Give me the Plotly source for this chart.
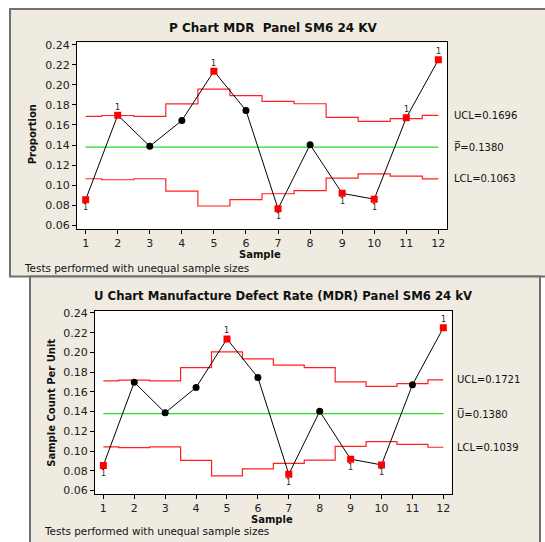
import plotly.graph_objects as go

W, H = 545, 542

samples = list(range(1, 13))

# P chart
p_values = [0.0855, 0.1698, 0.1388, 0.1645, 0.2137, 0.1745, 0.0765, 0.1403, 0.0918, 0.0860, 0.1672, 0.2250]
p_ucl = [0.1686, 0.1695, 0.1686, 0.1810, 0.1957, 0.1894, 0.1835, 0.1812, 0.1677, 0.1637, 0.1664, 0.1696]
p_lcl = [0.1064, 0.1054, 0.1064, 0.0940, 0.0792, 0.0855, 0.0914, 0.0946, 0.1070, 0.1112, 0.1090, 0.1063]
p_center = 0.1380
p_failed = [1, 2, 5, 7, 9, 10, 11, 12]

# U chart
u_values = [0.0855, 0.1698, 0.1388, 0.1645, 0.2137, 0.1745, 0.0765, 0.1403, 0.0918, 0.0860, 0.1672, 0.2250]
u_ucl = [0.1711, 0.1719, 0.1712, 0.1845, 0.2005, 0.1935, 0.1872, 0.1845, 0.1702, 0.1656, 0.1683, 0.1721]
u_lcl = [0.1042, 0.1035, 0.1042, 0.0905, 0.0749, 0.0819, 0.0876, 0.0909, 0.1048, 0.1095, 0.1068, 0.1039]
u_center = 0.1380
u_failed = [1, 5, 7, 9, 10, 12]

y_ticks = [0.06, 0.08, 0.10, 0.12, 0.14, 0.16, 0.18, 0.20, 0.22, 0.24]
y_ticktext = ["0.06", "0.08", "0.10", "0.12", "0.14", "0.16", "0.18", "0.20", "0.22", "0.24"]

charts = [
    dict(title="P Chart MDR  Panel SM6 24 KV", ylabel="Proportion", center_name="P\u0305",
         values=p_values, ucl=p_ucl, lcl=p_lcl, center=p_center, failed=p_failed,
         dom=(77, 447, 39, 228), panel=(10, 560, 5, 276), title_size=12,
         title_pos=(273, 24), ylab_pos=(32, 132), xlab_pos=(260, 253.5), foot_pos=(22, 267),
         rlab_x=452),
    dict(title="U Chart Manufacture Defect Rate (MDR) Panel SM6 24 kV", ylabel="Sample Count Per Unit",
         center_name="U\u0305",
         values=u_values, ucl=u_ucl, lcl=u_lcl, center=u_center, failed=u_failed,
         dom=(95, 451.7, 310.7, 496.7), panel=(30, 540, 276, 560), title_size=11.7,
         title_pos=(283, 296), ylab_pos=(52, 404), xlab_pos=(272, 522), foot_pos=(42, 534),
         rlab_x=455),
]

FONT = "DejaVu Sans"
BG = "#EFEBE1"

fig = go.Figure()
shapes = []
annotations = []
layout_axes = {}

def px_x(v):
    return v / W

def px_y(v):
    return 1 - v / H

# panels first
for c in charts:
    x0, x1, y0, y1 = c["panel"]
    shapes.append(dict(type="rect", xref="paper", yref="paper", layer="below",
                       x0=px_x(x0), x1=px_x(x1), y0=px_y(y1), y1=px_y(y0),
                       fillcolor=BG, line=dict(color="#707070", width=2)))
for c in charts:
    l, r, t, b = c["dom"]
    shapes.append(dict(type="rect", xref="paper", yref="paper", layer="below",
                       x0=px_x(l), x1=px_x(r), y0=px_y(b), y1=px_y(t),
                       fillcolor="white", line=dict(width=0)))

for i, c in enumerate(charts):
    n = i + 1
    xa = "x" if n == 1 else f"x{n}"
    ya = "y" if n == 1 else f"y{n}"
    l, r, t, b = c["dom"]
    layout_axes[f"xaxis{'' if n == 1 else n}"] = dict(
        domain=[px_x(l), px_x(r)], range=[0.73, 12.27], anchor=ya,
        tickmode="array", tickvals=samples, ticktext=[str(s) for s in samples],
        showline=True, mirror=True, linecolor="black", linewidth=1,
        ticks="outside", ticklen=4, tickcolor="black", showgrid=False, zeroline=False,
        tickfont=dict(family=FONT, size=11, color="#222"))
    layout_axes[f"yaxis{'' if n == 1 else n}"] = dict(
        domain=[px_y(b), px_y(t)], range=[0.0562, 0.2423], anchor=xa,
        tickmode="array", tickvals=y_ticks, ticktext=y_ticktext,
        showline=True, mirror=True, linecolor="black", linewidth=1,
        ticks="outside", ticklen=4, tickcolor="black", showgrid=False, zeroline=False,
        tickfont=dict(family=FONT, size=11, color="#222"))

    # step limits
    step_x = [samples[0]] + [s + 0.5 for s in samples[:-1]] + [samples[-1]]
    for lim in (c["ucl"], c["lcl"]):
        fig.add_trace(go.Scatter(x=step_x, y=lim + [lim[-1]], mode="lines", line_shape="hv",
                                 line=dict(color="#FF2020", width=1.2), xaxis=xa, yaxis=ya,
                                 hoverinfo="skip", showlegend=False))
    # center line
    fig.add_trace(go.Scatter(x=[samples[0], samples[-1]], y=[c["center"], c["center"]], mode="lines",
                             line=dict(color="#22DD22", width=1.2), xaxis=xa, yaxis=ya,
                             showlegend=False))
    # data line
    fig.add_trace(go.Scatter(x=samples, y=c["values"], mode="lines",
                             line=dict(color="black", width=1), xaxis=xa, yaxis=ya, showlegend=False))
    ok_x = [s for s in samples if s not in c["failed"]]
    ok_y = [c["values"][s - 1] for s in ok_x]
    bad_x = [s for s in samples if s in c["failed"]]
    bad_y = [c["values"][s - 1] for s in bad_x]
    fig.add_trace(go.Scatter(x=ok_x, y=ok_y, mode="markers",
                             marker=dict(symbol="circle", size=7, color="black"),
                             xaxis=xa, yaxis=ya, showlegend=False))
    fig.add_trace(go.Scatter(x=bad_x, y=bad_y, mode="markers",
                             marker=dict(symbol="square", size=7, color="#FF0000"),
                             xaxis=xa, yaxis=ya, showlegend=False))
    for sx, sy in zip(bad_x, bad_y):
        above = sy > c["center"]
        annotations.append(dict(x=sx, y=sy, xref=xa, yref=ya, text="1", showarrow=False,
                                yshift=8 if above else -8,
                                font=dict(family=FONT, size=8, color="#222")))

    # texts
    tx, ty = c["title_pos"]
    annotations.append(dict(x=px_x(tx), y=px_y(ty), xref="paper", yref="paper", text=f"<b>{c['title']}</b>",
                            showarrow=False, xanchor="center", yanchor="middle",
                            font=dict(family=FONT, size=c["title_size"], color="#111")))
    lx, ly = c["ylab_pos"]
    annotations.append(dict(x=px_x(lx), y=px_y(ly), xref="paper", yref="paper", text=f"<b>{c['ylabel']}</b>",
                            showarrow=False, textangle=-90, xanchor="center", yanchor="middle",
                            font=dict(family=FONT, size=10, color="#111")))
    sx_, sy_ = c["xlab_pos"]
    annotations.append(dict(x=px_x(sx_), y=px_y(sy_), xref="paper", yref="paper", text="<b>Sample</b>",
                            showarrow=False, xanchor="center", yanchor="middle",
                            font=dict(family=FONT, size=10, color="#111")))
    fx, fy = c["foot_pos"]
    annotations.append(dict(x=px_x(fx), y=px_y(fy), xref="paper", yref="paper",
                            text="Tests performed with unequal sample sizes",
                            showarrow=False, xanchor="left", yanchor="middle",
                            font=dict(family=FONT, size=10.4, color="#111")))
    rx = px_x(c["rlab_x"])
    for label, val in ((f"UCL={c['ucl'][-1]:.4f}", c["ucl"][-1]),
                       (f"{c['center_name']}={c['center']:.4f}", c["center"]),
                       (f"LCL={c['lcl'][-1]:.4f}", c["lcl"][-1])):
        annotations.append(dict(x=rx, y=val, xref="paper", yref=ya, text=label, showarrow=False,
                                xanchor="left", yanchor="middle",
                                font=dict(family=FONT, size=10, color="#111")))

fig.update_layout(width=W, height=H, margin=dict(l=0, r=0, t=0, b=0),
                  paper_bgcolor="white", plot_bgcolor="rgba(0,0,0,0)",
                  shapes=shapes, annotations=annotations, showlegend=False, **layout_axes)

fig.write_html("out.html", config={"displayModeBar": False},
               post_script="document.body.style.margin='0';document.body.style.padding='0';"
                           "document.body.style.overflow='hidden';")
